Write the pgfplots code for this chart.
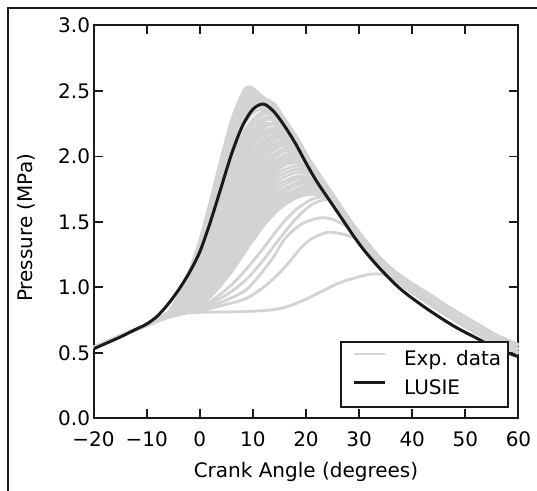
\documentclass[border=0pt]{standalone}
\usepackage{fontspec}
\setmainfont{DejaVu Sans}
\usepackage{pgfplots}
\pgfplotsset{compat=1.18}
\definecolor{expgray}{HTML}{D3D3D3}
\definecolor{lusie}{HTML}{1A1A1A}
\pgfplotsset{
  exp/.style={color=expgray, line width=2.8bp, smooth, forget plot},
}
\begin{document}
\begin{tikzpicture}[font=\fontsize{20bp}{24bp}\selectfont]
\useasboundingbox (0,0) rectangle (537bp,491bp);
\begin{axis}[
  at={(93.5bp,72.7bp)}, anchor=south west,
  scale only axis, width=425bp, height=392.8bp,
  xmin=-20, xmax=60, ymin=0, ymax=3,
  xtick={-20,-10,0,10,20,30,40,50,60},
  xticklabels={−20,−10,0,10,20,30,40,50,60},
  ytick={0,0.5,1,1.5,2,2.5,3},
  yticklabels={0.0,0.5,1.0,1.5,2.0,2.5,3.0},
  tick align=inside, major tick length=9bp,
  tick style={line width=1.8bp, color=lusie},
  axis line style={line width=2bp, color=lusie},
  ticklabel style={font=\fontsize{20bp}{24bp}\selectfont},
  label style={font=\fontsize{20bp}{24bp}\selectfont},
  xticklabel style={yshift=-10bp},
  xlabel={Crank Angle (degrees)},
  ylabel={Pressure (MPa)},
  xlabel style={at={(axis description cs:0.5,-0.1367)}, anchor=center},
  ylabel style={at={(axis description cs:-0.1576,0.485)}, anchor=center},
  legend style={at={(0.978,0.025)}, anchor=south east, draw=lusie,
    line width=2bp, fill=white, inner xsep=7bp, inner ysep=8.5bp,
    font=\fontsize{20bp}{24bp}\selectfont,
    nodes={inner sep=0bp, text height=15bp, text depth=4bp},
    row sep=10bp, column sep=18bp},
  legend cell align=left,
  legend image code/.code={\path (0bp,0bp); \draw[#1] (4bp,6.5bp) -- (35bp,6.5bp);},
]
% experimental cycles (fast-burning group)
\addplot[exp, forget plot=false] coordinates {(-20,0.54)(-15,0.63)(-10,0.71)(-6,0.81)(-4,0.94)(-2,1.12)(0,1.36)(2,1.66)(4,1.98)(6,2.28)(8,2.48)(9,2.53)(10,2.52)(12,2.45)(14,2.40)(16,2.28)(18,2.16)(21,1.95)(24.5,1.74)(29,1.47)(34,1.22)(38,1.08)(43,0.95)(48,0.82)(53,0.70)(56,0.63)(60,0.56)};
\addlegendentry{Exp. data}
\addplot[exp] coordinates {(-20,0.54)(-15,0.63)(-10,0.71)(-6,0.805)(-4,0.93)(-2,1.105)(0,1.34)(2,1.64)(4,1.96)(6,2.26)(8,2.46)(9.2,2.515)(10.5,2.50)(12.2,2.435)(14,2.40)(16,2.28)(18,2.16)(21,1.95)(24.5,1.74)(29,1.47)(34,1.22)(38,1.08)(43,0.95)(48,0.82)(53,0.70)(56,0.63)(60,0.56)};
\addplot[exp] coordinates {(-20,0.54)(-15,0.63)(-10,0.71)(-6,0.80)(-4,0.92)(-2,1.09)(0,1.32)(2,1.62)(4,1.94)(6,2.24)(8,2.44)(9.5,2.50)(11,2.47)(12.5,2.42)(14,2.40)(16,2.28)(18,2.16)(21,1.95)(24.5,1.74)(29,1.47)(34,1.22)(38,1.08)(43,0.95)(48,0.82)(53,0.70)(56,0.63)(60,0.56)};
\addplot[exp] coordinates {(-20,0.54)(-15,0.63)(-10,0.71)(-6,0.80)(-4,0.91)(-2,1.075)(0,1.305)(2,1.60)(4,1.92)(6,2.215)(8,2.415)(9.8,2.485)(11.5,2.45)(12.5,2.42)(14,2.38)(16,2.26)(18,2.14)(21,1.925)(24.5,1.715)(29,1.445)(34,1.195)(38,1.05)(43,0.915)(48,0.785)(53,0.665)(56,0.60)(60,0.53)};
\addplot[exp] coordinates {(-20,0.54)(-15,0.63)(-10,0.71)(-6,0.80)(-4,0.90)(-2,1.06)(0,1.29)(2,1.58)(4,1.90)(6,2.19)(8,2.39)(10,2.47)(12,2.43)(14,2.38)(16,2.26)(18,2.14)(21,1.925)(24.5,1.715)(29,1.445)(34,1.195)(38,1.05)(43,0.915)(48,0.785)(53,0.665)(56,0.60)(60,0.53)};
\addplot[exp] coordinates {(-20,0.54)(-15,0.63)(-10,0.71)(-6,0.795)(-4,0.895)(-2,1.05)(0,1.275)(2,1.56)(4,1.88)(6,2.17)(8,2.37)(10.2,2.455)(12.2,2.42)(14,2.40)(16,2.28)(18,2.16)(21,1.95)(24.5,1.74)(29,1.47)(34,1.22)(38,1.08)(43,0.95)(48,0.82)(53,0.70)(56,0.63)(60,0.56)};
\addplot[exp] coordinates {(-20,0.54)(-15,0.63)(-10,0.71)(-6,0.79)(-4,0.89)(-2,1.04)(0,1.26)(2,1.54)(4,1.86)(6,2.15)(8,2.35)(10.5,2.44)(12.5,2.41)(14,2.38)(16,2.26)(18,2.14)(21,1.925)(24.5,1.715)(29,1.445)(34,1.195)(38,1.05)(43,0.915)(48,0.785)(53,0.665)(56,0.60)(60,0.53)};
\addplot[exp] coordinates {(-20,0.54)(-15,0.63)(-10,0.71)(-6,0.79)(-4,0.885)(-2,1.035)(0,1.24)(3,1.60)(6,2.12)(8,2.325)(10.8,2.425)(12.5,2.405)(14,2.36)(16,2.24)(18,2.12)(21,1.90)(24.5,1.69)(29,1.42)(34,1.17)(38,1.02)(43,0.88)(48,0.75)(53,0.63)(56,0.57)(60,0.50)};
\addplot[exp] coordinates {(-20,0.54)(-15,0.63)(-10,0.71)(-6,0.79)(-3,0.93)(0,1.22)(3,1.65)(6,2.09)(8,2.30)(11,2.41)(12.5,2.40)(14,2.36)(16,2.24)(18,2.12)(21,1.90)(24.5,1.69)(29,1.42)(34,1.17)(38,1.02)(43,0.88)(48,0.75)(53,0.63)(56,0.57)(60,0.50)};
% medium group
\addplot[exp] coordinates {(-20,0.54)(-15,0.63)(-10,0.71)(-6,0.79)(-3,0.92)(0,1.20)(3,1.62)(6,2.05)(8,2.26)(10.5,2.38)(12.5,2.37)(14.5,2.33)(16,2.26)(18,2.14)(21,1.925)(24.5,1.715)(29,1.445)(34,1.195)(38,1.05)(43,0.915)(48,0.785)(53,0.665)(56,0.60)(60,0.53)};
\addplot[exp] coordinates {(-20,0.54)(-15,0.63)(-10,0.71)(-6,0.79)(-3,0.91)(0,1.18)(3,1.58)(6,2.00)(8,2.22)(10,2.33)(11.5,2.36)(13,2.35)(14.5,2.32)(16,2.28)(18,2.16)(21,1.95)(24.5,1.74)(29,1.47)(34,1.22)(38,1.08)(43,0.95)(48,0.82)(53,0.70)(56,0.63)(60,0.56)};
\addplot[exp] coordinates {(-20,0.54)(-15,0.63)(-10,0.71)(-6,0.79)(-3,0.905)(0,1.165)(3,1.55)(6,1.96)(8.5,2.20)(11,2.32)(12.5,2.34)(14.5,2.31)(16,2.24)(18,2.12)(21,1.90)(24.5,1.69)(29,1.42)(34,1.17)(38,1.02)(43,0.88)(48,0.75)(53,0.63)(56,0.57)(60,0.50)};
\addplot[exp] coordinates {(-20,0.54)(-15,0.63)(-10,0.71)(-6,0.79)(-3,0.90)(0,1.15)(3,1.52)(6,1.92)(9,2.20)(12,2.32)(14,2.31)(16,2.26)(18,2.14)(21,1.925)(24.5,1.715)(29,1.445)(34,1.195)(38,1.05)(43,0.915)(48,0.785)(53,0.665)(56,0.60)(60,0.53)};
\addplot[exp] coordinates {(-20,0.54)(-15,0.63)(-10,0.71)(-6,0.79)(-3,0.895)(0,1.135)(3,1.49)(6,1.885)(9,2.165)(12,2.29)(14,2.29)(16,2.25)(18,2.16)(21,1.95)(24.5,1.74)(29,1.47)(34,1.22)(38,1.08)(43,0.95)(48,0.82)(53,0.70)(56,0.63)(60,0.56)};
\addplot[exp] coordinates {(-20,0.54)(-15,0.63)(-10,0.71)(-6,0.79)(-3,0.89)(0,1.12)(3,1.46)(6,1.85)(9,2.13)(12.5,2.28)(14.5,2.26)(16,2.24)(18,2.12)(21,1.90)(24.5,1.69)(29,1.42)(34,1.17)(38,1.02)(43,0.88)(48,0.75)(53,0.63)(56,0.57)(60,0.50)};
\addplot[exp] coordinates {(-20,0.54)(-15,0.63)(-10,0.71)(-6,0.785)(-3,0.885)(0,1.105)(3,1.435)(6,1.815)(9,2.10)(12,2.24)(14,2.25)(16,2.22)(18,2.14)(21,1.925)(24.5,1.715)(29,1.445)(34,1.195)(38,1.05)(43,0.915)(48,0.785)(53,0.665)(56,0.60)(60,0.53)};
\addplot[exp] coordinates {(-20,0.54)(-15,0.63)(-10,0.71)(-6,0.78)(-3,0.88)(0,1.09)(3,1.41)(6,1.78)(9,2.07)(11,2.18)(13,2.24)(15,2.23)(16.5,2.20)(18,2.16)(21,1.95)(24.5,1.74)(29,1.47)(34,1.22)(38,1.08)(43,0.95)(48,0.82)(53,0.70)(56,0.63)(60,0.56)};
\addplot[exp] coordinates {(-20,0.54)(-15,0.63)(-10,0.71)(-6,0.78)(-3,0.875)(0,1.075)(3,1.385)(6,1.745)(9,2.035)(11,2.155)(13,2.21)(15.5,2.21)(18,2.12)(21,1.90)(24.5,1.69)(29,1.42)(34,1.17)(38,1.02)(43,0.88)(48,0.75)(53,0.63)(56,0.57)(60,0.50)};
\addplot[exp] coordinates {(-20,0.54)(-15,0.63)(-10,0.71)(-6,0.78)(-3,0.87)(0,1.06)(3,1.36)(6,1.71)(9,2.00)(11,2.13)(13.5,2.20)(16,2.19)(18,2.14)(21,1.925)(24.5,1.715)(29,1.445)(34,1.195)(38,1.05)(43,0.915)(48,0.785)(53,0.665)(56,0.60)(60,0.53)};
\addplot[exp] coordinates {(-20,0.54)(-15,0.63)(-10,0.71)(-6,0.78)(-3,0.865)(0,1.045)(3,1.335)(6,1.675)(9,1.965)(12,2.14)(14,2.185)(16.5,2.175)(18,2.16)(21,1.95)(24.5,1.74)(29,1.47)(34,1.22)(38,1.08)(43,0.95)(48,0.82)(53,0.70)(56,0.63)(60,0.56)};
\addplot[exp] coordinates {(-20,0.54)(-15,0.63)(-10,0.71)(-6,0.78)(-3,0.86)(0,1.03)(3,1.31)(6,1.64)(9,1.93)(12,2.11)(14.5,2.17)(16.5,2.16)(18,2.12)(21,1.90)(24.5,1.69)(29,1.42)(34,1.17)(38,1.02)(43,0.88)(48,0.75)(53,0.63)(56,0.57)(60,0.50)};
\addplot[exp] coordinates {(-20,0.54)(-15,0.63)(-10,0.71)(-6,0.78)(-3,0.855)(0,1.02)(3,1.29)(6,1.61)(9,1.90)(12,2.085)(14.5,2.155)(17,2.15)(19,2.07)(21,1.925)(24.5,1.715)(29,1.445)(34,1.195)(38,1.05)(43,0.915)(48,0.785)(53,0.665)(56,0.60)(60,0.53)};
\addplot[exp] coordinates {(-20,0.54)(-15,0.63)(-10,0.71)(-6,0.78)(-3,0.85)(0,1.01)(3,1.27)(6,1.58)(9,1.87)(12,2.06)(15,2.14)(17,2.13)(19,2.07)(21,1.95)(24.5,1.74)(29,1.47)(34,1.22)(38,1.08)(43,0.95)(48,0.82)(53,0.70)(56,0.63)(60,0.56)};
\addplot[exp] coordinates {(-20,0.54)(-15,0.63)(-10,0.71)(-6,0.78)(-3,0.845)(0,1.00)(3,1.25)(6,1.55)(9,1.84)(12,2.035)(15.5,2.12)(17.5,2.11)(19,2.06)(21,1.90)(24.5,1.69)(29,1.42)(34,1.17)(38,1.02)(43,0.88)(48,0.75)(53,0.63)(56,0.57)(60,0.50)};
\addplot[exp] coordinates {(-20,0.54)(-15,0.63)(-10,0.71)(-6,0.78)(-3,0.84)(0,0.99)(3,1.23)(6,1.52)(9,1.81)(12,2.01)(15.5,2.10)(17.5,2.09)(19,2.05)(21,1.925)(24.5,1.715)(29,1.445)(34,1.195)(38,1.05)(43,0.915)(48,0.785)(53,0.665)(56,0.60)(60,0.53)};
\addplot[exp] coordinates {(-20,0.54)(-15,0.63)(-10,0.71)(-6,0.78)(-3,0.835)(0,0.98)(3,1.21)(6,1.495)(9,1.78)(12,1.98)(15.5,2.08)(18,2.07)(19.5,2.01)(21,1.95)(24.5,1.74)(29,1.47)(34,1.22)(38,1.08)(43,0.95)(48,0.82)(53,0.70)(56,0.63)(60,0.56)};
\addplot[exp] coordinates {(-20,0.54)(-15,0.63)(-10,0.71)(-6,0.78)(-3,0.83)(0,0.97)(3,1.19)(6,1.47)(9,1.75)(12,1.95)(16,2.06)(18.5,2.04)(21,1.90)(24.5,1.69)(29,1.42)(34,1.17)(38,1.02)(43,0.88)(48,0.75)(53,0.63)(56,0.57)(60,0.50)};
\addplot[exp] coordinates {(-20,0.54)(-15,0.63)(-10,0.71)(-6,0.78)(-3,0.83)(0,0.96)(3,1.175)(6,1.445)(9,1.72)(12,1.925)(16,2.04)(18.5,2.02)(21,1.925)(24.5,1.715)(29,1.445)(34,1.195)(38,1.05)(43,0.915)(48,0.785)(53,0.665)(56,0.60)(60,0.53)};
\addplot[exp] coordinates {(-20,0.54)(-15,0.63)(-10,0.71)(-6,0.78)(-3,0.83)(0,0.95)(3,1.16)(6,1.42)(9,1.69)(12,1.90)(16.5,2.02)(19,2.00)(21,1.94)(24.5,1.74)(29,1.47)(34,1.22)(38,1.08)(43,0.95)(48,0.82)(53,0.70)(56,0.63)(60,0.56)};
\addplot[exp] coordinates {(-20,0.54)(-15,0.63)(-10,0.71)(-6,0.78)(-3,0.825)(0,0.94)(3,1.14)(6,1.395)(9,1.66)(12,1.87)(16,1.99)(18.5,1.99)(21,1.92)(24.5,1.69)(29,1.42)(34,1.17)(38,1.02)(43,0.88)(48,0.75)(53,0.63)(56,0.57)(60,0.50)};
\addplot[exp] coordinates {(-20,0.54)(-15,0.63)(-10,0.71)(-6,0.78)(-3,0.82)(0,0.93)(3,1.12)(6,1.37)(9,1.63)(12,1.84)(15,1.95)(17,1.98)(19.5,1.96)(21.5,1.90)(24.5,1.715)(29,1.445)(34,1.195)(38,1.05)(43,0.915)(48,0.785)(53,0.665)(56,0.60)(60,0.53)};
% slow-burning group
\addplot[exp] coordinates {(-20,0.54)(-15,0.63)(-10,0.71)(-6,0.78)(-3,0.82)(0,0.925)(3,1.105)(6,1.35)(9,1.605)(12,1.81)(15,1.93)(17.5,1.965)(20,1.94)(22,1.86)(24.5,1.74)(29,1.47)(34,1.22)(38,1.08)(43,0.95)(48,0.82)(53,0.70)(56,0.63)(60,0.56)};
\addplot[exp] coordinates {(-20,0.54)(-15,0.63)(-10,0.71)(-6,0.78)(-3,0.82)(0,0.92)(3,1.09)(6,1.33)(9,1.58)(12,1.78)(15,1.91)(17.5,1.95)(20,1.93)(22,1.86)(24.5,1.69)(29,1.42)(34,1.17)(38,1.02)(43,0.88)(48,0.75)(53,0.63)(56,0.57)(60,0.50)};
\addplot[exp] coordinates {(-20,0.54)(-15,0.63)(-10,0.71)(-6,0.78)(-3,0.82)(0,0.915)(3,1.08)(6,1.31)(9,1.555)(12,1.755)(15,1.88)(18,1.925)(20.5,1.91)(22.5,1.84)(24.5,1.715)(29,1.445)(34,1.195)(38,1.05)(43,0.915)(48,0.785)(53,0.665)(56,0.60)(60,0.53)};
\addplot[exp] coordinates {(-20,0.54)(-15,0.63)(-10,0.71)(-6,0.78)(-3,0.82)(0,0.91)(3,1.07)(6,1.29)(9,1.53)(12,1.73)(15,1.85)(18,1.90)(20.5,1.89)(22.5,1.83)(24.5,1.74)(29,1.47)(34,1.22)(38,1.08)(43,0.95)(48,0.82)(53,0.70)(56,0.63)(60,0.56)};
\addplot[exp] coordinates {(-20,0.54)(-15,0.63)(-10,0.71)(-6,0.78)(-3,0.815)(0,0.905)(3,1.06)(6,1.27)(9,1.505)(12,1.70)(15,1.82)(18,1.875)(21,1.865)(23,1.80)(24.5,1.69)(29,1.42)(34,1.17)(38,1.02)(43,0.88)(48,0.75)(53,0.63)(56,0.57)(60,0.50)};
\addplot[exp] coordinates {(-20,0.54)(-15,0.63)(-10,0.71)(-6,0.78)(-3,0.81)(0,0.90)(3,1.05)(6,1.25)(9,1.48)(12,1.67)(15,1.79)(18.5,1.85)(21,1.84)(23,1.79)(24.5,1.715)(29,1.445)(34,1.195)(38,1.05)(43,0.915)(48,0.785)(53,0.665)(56,0.60)(60,0.53)};
\addplot[exp] coordinates {(-20,0.54)(-15,0.63)(-10,0.71)(-6,0.78)(-3,0.81)(0,0.895)(3,1.04)(6,1.235)(9,1.455)(12,1.64)(15,1.76)(18.5,1.83)(21.5,1.815)(24,1.75)(27,1.59)(29,1.47)(34,1.22)(38,1.08)(43,0.95)(48,0.82)(53,0.70)(56,0.63)(60,0.56)};
\addplot[exp] coordinates {(-20,0.54)(-15,0.63)(-10,0.71)(-6,0.78)(-3,0.81)(0,0.89)(3,1.03)(6,1.22)(9,1.43)(12,1.61)(15,1.73)(19,1.81)(22,1.79)(24.5,1.72)(27,1.58)(29,1.47)(34,1.22)(38,1.08)(43,0.95)(48,0.82)(53,0.70)(56,0.63)(60,0.56)};
\addplot[exp] coordinates {(-20,0.54)(-15,0.63)(-10,0.71)(-6,0.78)(-3,0.81)(0,0.885)(3,1.02)(6,1.20)(9,1.405)(12,1.585)(15,1.705)(19,1.79)(22,1.775)(24.5,1.715)(27,1.575)(29,1.445)(34,1.195)(38,1.05)(43,0.915)(48,0.785)(53,0.665)(56,0.60)(60,0.53)};
\addplot[exp] coordinates {(-20,0.54)(-15,0.63)(-10,0.71)(-6,0.78)(-3,0.81)(0,0.88)(3,1.01)(6,1.18)(9,1.38)(12,1.56)(15,1.68)(19.5,1.77)(22,1.76)(24.5,1.71)(27,1.57)(29,1.445)(34,1.195)(38,1.05)(43,0.915)(48,0.785)(53,0.665)(56,0.60)(60,0.53)};
\addplot[exp] coordinates {(-20,0.54)(-15,0.63)(-10,0.71)(-6,0.78)(-3,0.81)(0,0.875)(3,1.00)(6,1.165)(9,1.36)(12,1.535)(15,1.66)(19,1.75)(22,1.75)(24.5,1.70)(27,1.565)(29,1.42)(34,1.17)(38,1.02)(43,0.88)(48,0.75)(53,0.63)(56,0.57)(60,0.50)};
\addplot[exp] coordinates {(-20,0.54)(-15,0.63)(-10,0.71)(-6,0.78)(-3,0.81)(0,0.87)(3,0.99)(6,1.15)(9,1.34)(12,1.51)(15,1.64)(18,1.71)(20,1.74)(22.5,1.73)(25,1.68)(27,1.56)(29,1.42)(34,1.17)(38,1.02)(43,0.88)(48,0.75)(53,0.63)(56,0.57)(60,0.50)};
\addplot[exp] coordinates {(-20,0.54)(-15,0.63)(-10,0.71)(-6,0.78)(-3,0.81)(0,0.865)(3,0.98)(6,1.135)(9,1.32)(12,1.49)(15,1.62)(18,1.695)(20.5,1.725)(23,1.715)(25.5,1.66)(27.5,1.55)(29,1.47)(34,1.22)(38,1.08)(43,0.95)(48,0.82)(53,0.70)(56,0.63)(60,0.56)};
\addplot[exp] coordinates {(-20,0.54)(-15,0.63)(-10,0.71)(-6,0.78)(-3,0.81)(0,0.86)(3,0.97)(6,1.12)(9,1.30)(12,1.47)(15,1.60)(18,1.68)(20.5,1.71)(23,1.70)(25.5,1.64)(27.5,1.54)(29,1.445)(34,1.195)(38,1.05)(43,0.915)(48,0.785)(53,0.665)(56,0.60)(60,0.53)};
\addplot[exp] coordinates {(-20,0.54)(-15,0.63)(-10,0.71)(-6,0.78)(-3,0.81)(0,0.845)(3,0.92)(6,1.02)(9,1.15)(12,1.30)(15,1.46)(18,1.59)(21,1.67)(23.5,1.69)(26,1.63)(28,1.51)(29,1.445)(34,1.195)(38,1.05)(43,0.915)(48,0.785)(53,0.665)(56,0.60)(60,0.53)};
\addplot[exp] coordinates {(-20,0.54)(-15,0.63)(-10,0.71)(-6,0.78)(-3,0.81)(0,0.835)(3,0.895)(6,0.97)(9,1.07)(12,1.21)(15,1.37)(18,1.52)(21,1.63)(24,1.67)(26.5,1.60)(28.5,1.48)(29,1.445)(34,1.195)(38,1.05)(43,0.915)(48,0.785)(53,0.665)(56,0.60)(60,0.53)};
% late cycles
\addplot[exp] coordinates {(-20,0.54)(-15,0.63)(-10,0.71)(-6,0.77)(-3,0.80)(0,0.83)(3,0.87)(6,0.92)(9,0.99)(12,1.13)(14,1.24)(16,1.37)(19,1.48)(22.5,1.53)(25,1.52)(27,1.48)(29,1.42)(34,1.17)(38,1.02)(43,0.88)(48,0.75)(53,0.63)(56,0.57)(60,0.50)};
\addplot[exp] coordinates {(-20,0.54)(-15,0.63)(-10,0.71)(-6,0.77)(-3,0.80)(0,0.82)(3,0.85)(6,0.88)(9,0.92)(12,1.00)(15,1.11)(17,1.20)(19,1.30)(21,1.37)(24,1.42)(26.5,1.41)(29,1.38)(31,1.32)(34,1.17)(38,1.02)(43,0.88)(48,0.75)(53,0.63)(56,0.57)(60,0.50)};
\addplot[exp] coordinates {(-20,0.54)(-15,0.63)(-10,0.71)(-6,0.77)(-3,0.80)(0,0.81)(5,0.812)(10,0.818)(14,0.83)(17,0.86)(20,0.91)(23,0.97)(26,1.03)(29,1.07)(32,1.10)(34.5,1.10)(36.5,1.07)(38,1.02)(43,0.88)(48,0.75)(53,0.63)(56,0.57)(60,0.50)};
% model
\addplot[color=lusie, line width=3bp, smooth] coordinates {(-20,0.53)(-15,0.62)(-12,0.68)(-10,0.72)(-8,0.78)(-6,0.87)(-4,0.98)(-2,1.11)(0,1.27)(2,1.50)(4,1.76)(6,2.02)(8,2.23)(10,2.36)(12,2.40)(14,2.34)(16,2.23)(18,2.10)(20,1.95)(22,1.81)(24.5,1.66)(27,1.51)(29,1.39)(31,1.28)(34,1.14)(38,0.98)(43,0.83)(48,0.70)(52.7,0.60)(56,0.53)(60,0.47)};
\addlegendentry{LUSIE}
\end{axis}
\draw[line width=2bp, color=lusie] (8.3bp,-10bp) -- (8.3bp,482.7bp) -- (550bp,482.7bp);
\end{tikzpicture}
\end{document}
